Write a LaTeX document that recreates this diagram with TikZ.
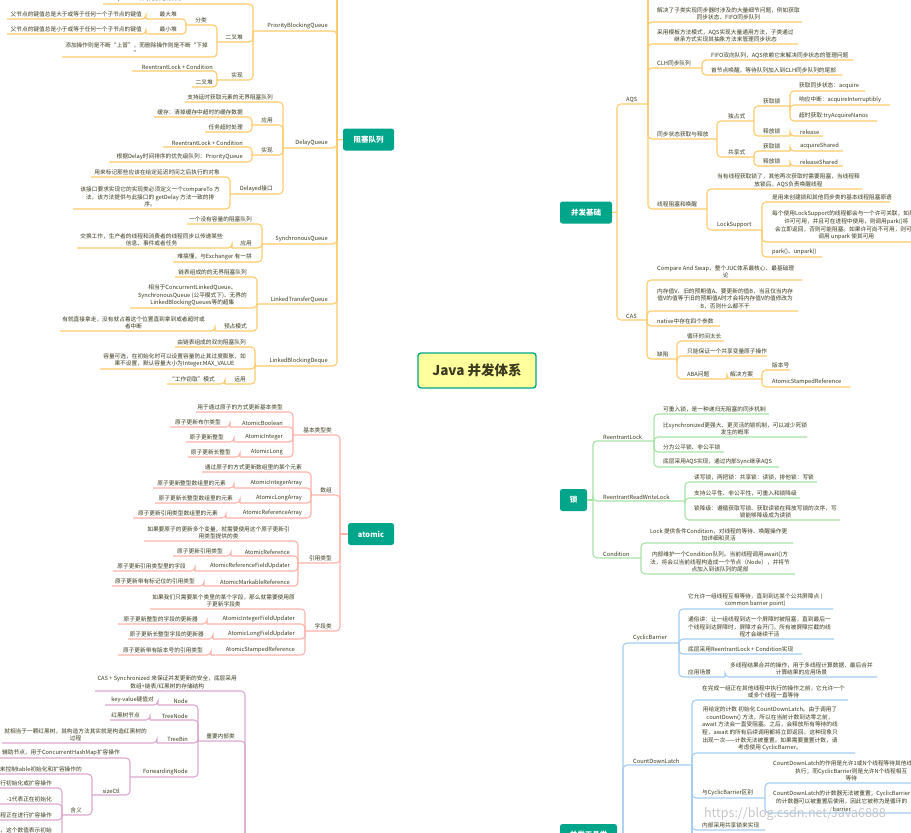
\documentclass[tikz,border=0pt]{standalone}
\usepackage{fontspec}
\setmainfont{Noto Sans CJK SC}
\usetikzlibrary{backgrounds}
\definecolor{txtc}{HTML}{3B3A1E}
\definecolor{lor}{HTML}{FFCB6B}
\definecolor{lrd}{HTML}{FFB3AA}
\definecolor{lgr}{HTML}{A6E3A6}
\definecolor{lbl}{HTML}{A5CDF2}
\definecolor{lpu}{HTML}{DDA8D0}
\definecolor{mor}{HTML}{FFA800}
\definecolor{mrd}{HTML}{FF5B4C}
\definecolor{mgr}{HTML}{4CC94C}
\definecolor{mbl}{HTML}{3B95E3}
\definecolor{mpu}{HTML}{A3428D}
\definecolor{min}{HTML}{47389A}
\definecolor{tealc}{HTML}{00A58A}
\definecolor{centfill}{HTML}{FFFF9E}
\tikzset{
  tx/.style={font=\fontsize{5.7}{7.7}\selectfont, text=txtc, inner xsep=0pt, inner ysep=1.6pt, align=center},
  sub/.style={line width=1.1pt, rounded corners=4pt},
  lo/.style={sub, draw=lor},
  lr/.style={sub, draw=lrd},
  lg/.style={sub, draw=lgr},
  lb/.style={sub, draw=lbl},
  lp/.style={sub, draw=lpu},
  mainc/.style={line width=2.6pt, line cap=round},
  branch/.style={fill=tealc, text=white, font=\fontsize{7.5}{8}\selectfont\bfseries, rounded corners=2.5pt, minimum height=22pt, inner sep=1pt},
  centre/.style={fill=centfill, draw=tealc, line width=1.4pt, rounded corners=3pt, minimum width=118pt, minimum height=35pt, text=txtc, font=\fontsize{13.5}{14}\selectfont\bfseries}
}
\newcommand{\mmL}[7]{\draw[#1] (#3) |- (#5,#4) coordinate (#2); \node[tx,anchor=south east] (#2t) at (#6,#4) {#7};}
\newcommand{\mmR}[7]{\draw[#1] (#3) |- (#5,#4) coordinate (#2); \node[tx,anchor=south west] (#2t) at (#6,#4) {#7};}
\begin{document}
\begin{tikzpicture}[x=1pt,y=-1pt]
\fill[white] (0,0) rectangle (911,833);
\useasboundingbox (0,0) rectangle (911,833);

% ---------- main nodes
\node[centre] (c) at (477,370.5) {Java 并发体系};
\node[branch, minimum width=51pt] (zq) at (368.5,139.5) {阻塞队列};
\node[branch, minimum width=52pt] (bf) at (586,212.5) {并发基础};
\node[branch, minimum width=46pt] (atm) at (371,534) {atomic};
\node[branch, minimum width=27pt] (suo) at (573.5,500) {锁};
\node[branch, minimum width=57pt] (gj) at (588.5,835) {并发工具类};
\coordinate (offg) at (462,-8);
\coordinate (offr) at (493,-8);
\coordinate (offp) at (456,840);
\coordinate (offi) at (496,840);

\begin{pgfonlayer}{background}
\draw[mainc, mor] ([xshift=-7pt]c.north) .. controls (455,240) and (425,142) .. (zq.east);
\draw[mainc, mor] ([xshift=10pt]c.north) .. controls (500,280) and (525,212) .. (bf.west);
\draw[mainc, mgr] ([xshift=-1pt]c.north) .. controls (472,250) and (466,100) .. (offg);
\draw[mainc, mrd] ([xshift=1pt]c.north) .. controls (481,250) and (487,100) .. (offr);
\draw[mainc, mrd] ([xshift=-10pt]c.south) .. controls (460,470) and (440,534) .. (atm.east);
\draw[mainc, mpu] ([xshift=-4pt]c.south) .. controls (473,500) and (465,650) .. (offp);
\draw[mainc, min] ([xshift=1pt]c.south) .. controls (480,500) and (488,650) .. (offi);
\draw[mainc, mbl] ([xshift=5pt]c.south) .. controls (490,560) and (500,800) .. (gj.west);
\draw[mainc, mgr] ([xshift=12pt]c.south) .. controls (495,460) and (520,500) .. (suo.west);
\end{pgfonlayer}

% ---------- 阻塞队列
\coordinate (zqb) at (337,140);
\draw[lo] (zq.west) -- (zqb);
\draw[lo] (zqb) -- (337,-5);
\mmL{lo}{pbq}{zqb}{31}{253}{328}{PriorityBlockingQueue}
\mmL{lo}{pbq0}{pbq}{4}{103}{213}{支持优先级的无界阻塞队列，默认自然序，也可以通过\\Comparator来对元素进行排序}
\mmL{lo}{ecd}{pbq}{42}{217}{243}{二叉堆}
\mmL{lo}{pbqs}{pbq}{80}{217}{243}{实现}
\mmL{lo}{fl}{ecd}{25}{186}{207}{分类}
\mmL{lo}{tj}{ecd}{57}{62}{208}{添加操作则是不断“上冒”，而删除操作则是不断“下掉\\”}
\mmL{lo}{zdd}{fl}{19}{146}{177}{最大堆}
\mmL{lo}{zdda}{zdd}{19}{7}{142}{父节点的键值总是大于或等于任何一个子节点的键值}
\mmL{lo}{zxd}{fl}{34}{146}{177}{最小堆}
\mmL{lo}{zxda}{zxd}{34}{7}{142}{父节点的键值总是小于或等于任何一个子节点的键值}
\mmL{lo}{pbqsa}{pbqs}{71}{132}{213}{ReentrantLock + Condition}
\mmL{lo}{pbqsb}{pbqs}{87}{192}{213}{二叉堆}

\mmL{lo}{dq}{zqb}{148}{283}{328}{DelayQueue}
\mmL{lo}{dqa}{dq}{102}{185}{273}{支持延时获取元素的无界阻塞队列}
\mmL{lo}{dqyy}{dq}{125}{252}{273}{应用}
\mmL{lo}{dqyya}{dqyy}{117}{154}{243}{缓存：清掉缓存中超时的缓存数据}
\mmL{lo}{dqyyb}{dqyy}{132}{205}{243}{任务超时处理}
\mmL{lo}{dqsx}{dq}{155}{252}{273}{实现}
\mmL{lo}{dqsxa}{dqsx}{147}{163}{243}{ReentrantLock + Condition}
\mmL{lo}{dqsxb}{dqsx}{162}{109}{243}{根据Delay时间排序的优先级队列：PriorityQueue}
\mmL{lo}{dqjk}{dq}{194}{230}{273}{Delayed接口}
\mmL{lo}{dqjka}{dqjk}{177}{91}{220}{用来标记那些应该在给定延迟时间之后执行的对象}
\mmL{lo}{dqjkb}{dqjk}{209}{73}{220}{该接口要求实现它的实现类必须定义一个compareTo 方\\法，该方法提供与此接口的 getDelay 方法一致的排\\序。}

\mmL{lo}{sq}{zqb}{244}{262}{328}{SynchronousQueue}
\mmL{lo}{sqa}{sq}{224}{187}{252}{一个没有容量的阻塞队列}
\mmL{lo}{sqyy}{sq}{248}{232}{252}{应用}
\mmL{lo}{sqyya}{sqyy}{248}{77}{223}{交换工作，生产者的线程和消费者的线程同步以传递某些\\信息、事件或者任务}
\mmL{lo}{sqc}{sq}{262}{173}{252}{难搞懂，与Exchanger 有一拼}

\mmL{lo}{ltq}{zqb}{304}{257}{328}{LinkedTransferQueue}
\mmL{lo}{ltqa}{ltq}{277}{175}{247}{链表组成的的无界阻塞队列}
\mmL{lo}{ltqb}{ltq}{308}{130}{247}{相当于ConcurrentLinkedQueue、\\SynchronousQueue (公平模式下)、无界的\\LinkedBlockingQueues等的超集}
\mmL{lo}{ltqc}{ltq}{331}{215}{247}{预占模式}
\mmL{lo}{ltqca}{ltqc}{331}{60}{205}{有就直接拿走，没有就占着这个位置直到拿到或者超时或\\者中断}

\mmL{lo}{lbd}{zqb}{366}{255}{328}{LinkedBlockingDeque}
\mmL{lo}{lbda}{lbd}{347}{175}{246}{由链表组成的双向阻塞队列}
\mmL{lo}{lbdb}{lbd}{369}{100}{246}{容量可选，在初始化时可以设置容量防止其过度膨胀，如\\果不设置，默认容量大小为Integer.MAX\_VALUE}
\mmL{lo}{lbdc}{lbd}{384}{225}{246}{运用}
\mmL{lo}{lbdca}{lbdc}{384}{167}{215}{“工作窃取”模式}

% ---------- atomic
\coordinate (atb) at (340,534);
\draw[lr] (atm.west) -- (atb);
\mmL{lr}{jb}{atb}{435}{293}{332}{基本类型类}
\mmL{lr}{jba}{jb}{412}{196}{283}{用于通过原子的方式更新基本类型}
\mmL{lr}{jbb}{jb}{427}{230}{283}{AtomicBoolean}
\mmL{lr}{jbba}{jbb}{427}{170}{221}{原子更新布尔类型}
\mmL{lr}{jbc}{jb}{442}{234}{283}{AtomicInteger}
\mmL{lr}{jbca}{jbc}{442}{186}{224}{原子更新整型}
\mmL{lr}{jbd}{jb}{457}{240}{283}{AtomicLong}
\mmL{lr}{jbda}{jbd}{457}{188}{231}{原子更新长整型}

\mmL{lr}{sz}{atb}{495}{311}{332}{数组}
\mmL{lr}{sza}{sz}{472}{202}{302}{通过原子的方式更新数组里的某个元素}
\mmL{lr}{szb}{sz}{488}{234}{302}{AtomicIntegerArray}
\mmL{lr}{szba}{szb}{488}{153}{226}{原子更新整型数组里的元素}
\mmL{lr}{szc}{sz}{503}{240}{302}{AtomicLongArray}
\mmL{lr}{szca}{szc}{503}{155}{233}{原子更新长整型数组里的元素}
\mmL{lr}{szd}{sz}{518}{226}{302}{AtomicReferenceArray}
\mmL{lr}{szda}{szd}{518}{133}{218}{原子更新引用类型数组里的元素}

\mmL{lr}{yy}{atb}{563}{298}{332}{引用类型}
\mmL{lr}{yya}{yy}{541}{144}{290}{如果要原子的更新多个变量，就需要使用这个原子更新引\\用类型提供的类}
\mmL{lr}{yyb}{yy}{556}{231}{290}{AtomicReference}
\mmL{lr}{yyba}{yyb}{556}{173}{223}{原子更新引用类型}
\mmL{lr}{yyc}{yy}{571}{195}{290}{AtomicReferenceFieldUpdater}
\mmL{lr}{yyca}{yyc}{571}{113}{186}{原子更新引用类型里的字段}
\mmL{lr}{yyd}{yy}{586}{204}{290}{AtomicMarkableReference}
\mmL{lr}{yyda}{yyd}{586}{112}{195}{原子更新带有标记位的引用类型}

\mmL{lr}{zd}{atb}{631}{305}{332}{字段类}
\mmL{lr}{zda}{zd}{609}{150}{295}{如果我们只需要某个类里的某个字段，那么就需要使用原\\子更新字段类}
\mmL{lr}{zdb}{zd}{624}{207}{295}{AtomicIntegerFieldUpdater}
\mmL{lr}{zdba}{zdb}{624}{118}{198}{原子更新整型的字段的更新器}
\mmL{lr}{zdc}{zd}{639}{213}{295}{AtomicLongFieldUpdater}
\mmL{lr}{zdca}{zdc}{639}{128}{204}{原子更新长整型字段的更新器}
\mmL{lr}{zde}{zd}{655}{211}{295}{AtomicStampedReference}
\mmL{lr}{zdea}{zde}{655}{118}{203}{原子更新带有版本号的引用类型}

% ---------- ConcurrentHashMap (purple, parent below picture)
\coordinate (chmb) at (245,900);
\mmL{lp}{cha}{chmb}{691}{95}{237}{CAS + Synchronized 来保证并发更新的安全，底层采用\\数组+链表/红黑树的存储结构}
\mmL{lp}{chn}{chmb}{741}{198}{235}{重要内部类}
\mmL{lp}{chna}{chn}{705}{158}{188}{Node}
\mmL{lp}{chnaa}{chna}{705}{105}{154}{key-value键值对}
\mmL{lp}{chnb}{chn}{720}{150}{188}{TreeNode}
\mmL{lp}{chnba}{chnb}{720}{110}{140}{红黑树节点}
\mmL{lp}{chnc}{chn}{743}{157}{188}{TreeBin}
\mmL{lp}{chnca}{chnc}{743}{2}{147}{就相当于一颗红黑树，其构造方法其实就是构造红黑树的\\过程}
\mmL{lp}{chnd}{chn}{777}{130}{188}{ForwardingNode}
\mmL{lp}{chnda}{chnd}{758}{-5}{120}{辅助节点，用于ConcurrentHashMap扩容操作}
\mmL{lp}{scl}{chnd}{795}{92}{120}{sizeCtl}
\mmL{lp}{scla}{scl}{774}{-5}{82}{控制标识符，用来控制table初始化和扩容操作的}
\mmL{lp}{hy}{scl}{815}{62}{82}{含义}
\mmL{lp}{hya}{hy}{788}{-5}{52}{负数代表正在进行初始化或扩容操作}
\mmL{lp}{hyb}{hy}{804}{-5}{52}{-1代表正在初始化}
\mmL{lp}{hyc}{hy}{820}{-5}{52}{-N 表示有N-1个线程正在进行扩容操作}
\mmL{lp}{hyd}{hy}{842}{-5}{52}{正数或0代表hash表还没有被初始化，这个数值表示初始\\化或下一次进行扩容的大小}

% ---------- 并发基础
\coordinate (bfb) at (617,212);
\draw[lo] (bf.east) -- (bfb);
\mmR{lo}{aqs}{bfb}{104}{648}{626}{AQS}
\draw[lo] (aqs) -- (648,-5);
\mmR{lo}{aqsa}{aqs}{22}{802}{657}{解决了子类实现同步器时涉及的大量细节问题，例如获取\\同步状态、FIFO同步队列}
\mmR{lo}{aqsb}{aqs}{44}{798}{657}{采用模板方法模式，AQS实现大量通用方法，子类通过\\继承方式实现其抽象方法来管理同步状态}
\mmR{lo}{clh}{aqs}{68}{702}{657}{CLH同步队列}
\mmR{lo}{clha}{clh}{60}{853}{711}{FIFO双向队列，AQS依赖它来解决同步状态的管理问题}
\mmR{lo}{clhb}{clh}{75}{842}{711}{首节点唤醒，等待队列加入到CLH同步队列的尾部}
\mmR{lo}{tb}{aqs}{139}{717}{657}{同步状态获取与释放}
\mmR{lo}{dz}{tb}{121}{754}{728}{独占式}
\mmR{lo}{dzh}{dz}{106}{790}{763}{获取锁}
\mmR{lo}{dzha}{dzh}{91}{865}{799}{获取同步状态：acquire}
\mmR{lo}{dzhb}{dzh}{105}{890}{799}{响应中断：acquireInterruptibly}
\mmR{lo}{dzhc}{dzh}{121}{877}{799}{超时获取:tryAcquireNanos}
\mmR{lo}{dzs}{dz}{136}{790}{763}{释放锁}
\mmR{lo}{dzsa}{dzs}{136}{823}{800}{release}
\mmR{lo}{gx}{tb}{157}{754}{728}{共享式}
\mmR{lo}{gxh}{gx}{151}{790}{763}{获取锁}
\mmR{lo}{gxha}{gxh}{151}{843}{800}{acquireShared}
\mmR{lo}{gxs}{gx}{166}{790}{763}{释放锁}
\mmR{lo}{gxsa}{gxs}{166}{843}{800}{releaseShared}
\mmR{lo}{zs}{aqs}{209}{707}{657}{线程阻塞和唤醒}
\mmR{lo}{zsa}{zs}{189}{862}{717}{当有线程获取锁了，其他再次获取时需要阻塞，当线程释\\放锁后，AQS负责唤醒线程}
\mmR{lo}{ls}{zs}{230}{762}{717}{LockSupport}
\mmR{lo}{lsa}{ls}{202}{890}{772}{是用来创建锁和其他同步类的基本线程阻塞原语}
\mmR{lo}{lsb}{ls}{242}{920}{772}{每个使用LockSupport的线程都会与一个许可关联，如果该\\许可可用，并且可在进程中使用，则调用park()将\\会立即返回，否则可能阻塞。如果许可尚不可用，则可以\\调用 unpark 使其可用}
\mmR{lo}{lsc}{ls}{257}{822}{772}{park()、unpark()}
\mmR{lo}{cas}{bfb}{320}{647}{626}{CAS}
\mmR{lo}{casa}{cas}{280}{802}{657}{Compare And Swap，整个JUC体系最核心、最基础理\\论}
\mmR{lo}{casb}{cas}{311}{798}{657}{内存值V、旧的预期值A、要更新的值B，当且仅当内存\\值V的值等于旧的预期值A时才会将内存值V的值修改为\\B，否则什么都不干}
\mmR{lo}{casc}{cas}{326}{720}{657}{native中存在四个参数}
\mmR{lo}{qx}{cas}{359}{677}{657}{缺陷}
\mmR{lo}{qxa}{qx}{341}{724}{687}{循环时间太长}
\mmR{lo}{qxb}{qx}{356}{767}{687}{只能保证一个共享变量原子操作}
\mmR{lo}{aba}{qx}{379}{727}{687}{ABA问题}
\mmR{lo}{jj}{aba}{379}{762}{730}{解决方案}
\mmR{lo}{jja}{jj}{370}{790}{772}{版本号}
\mmR{lo}{jjb}{jj}{387}{850}{772}{AtomicStampedReference}

% ---------- 锁
\coordinate (sb) at (593,500);
\draw[lg] (suo.east) -- (sb);
\mmR{lg}{rl}{sb}{441}{654}{603}{ReentrantLock}
\mmR{lg}{rla}{rl}{414}{769}{663}{可重入锁，是一种递归无阻塞的同步机制}
\mmR{lg}{rlb}{rl}{437}{807}{663}{比synchronized更强大、更灵活的锁机制，可以减少死锁\\发生的概率}
\mmR{lg}{rlc}{rl}{452}{724}{663}{分为公平锁、非公平锁}
\mmR{lg}{rld}{rl}{467}{779}{663}{底层采用AQS实现，通过内部Sync继承AQS}
\mmR{lg}{rw}{sb}{501}{685}{603}{ReentrantReadWriteLock}
\mmR{lg}{rwa}{rw}{482}{817}{694}{读写锁，两把锁：共享锁：读锁，排他锁：写锁}
\mmR{lg}{rwb}{rw}{498}{800}{694}{支持公平性、非公平性，可重入和锁降级}
\mmR{lg}{rwc}{rw}{520}{840}{694}{锁降级：遵循获取写锁、获取读锁在释放写锁的次序，写\\锁能够降级成为读锁}
\mmR{lg}{cd}{sb}{558}{641}{603}{Condition}
\mmR{lg}{cda}{cd}{543}{793}{650}{Lock 提供条件Condition，对线程的等待、唤醒操作更\\加详细和灵活}
\mmR{lg}{cdb}{cd}{574}{795}{650}{内部维护一个Condition队列。当前线程调用await()方\\法，将会以当前线程构造成一个节点（Node），并将节\\点加入到该队列的尾部}

% ---------- 并发工具类
\coordinate (gjb) at (623,835);
\draw[lb] (gj.east) -- (gjb);
\mmR{lb}{cb}{gjb}{643}{679}{633}{CyclicBarrier}
\mmR{lb}{cba}{cb}{609}{833}{688}{它允许一组线程互相等待，直到到达某个公共屏障点 (\\common barrier point)}
\mmR{lb}{cbb}{cb}{639}{834}{688}{通俗讲：让一组线程到达一个屏障时被阻塞，直到最后一\\个线程到达屏障时，屏障才会开门，所有被屏障拦截的线\\程才会继续干活}
\mmR{lb}{cbc}{cb}{654}{802}{688}{底层采用ReentrantLock + Condition实现}
\mmR{lb}{cbd}{cb}{677}{725}{688}{应用场景}
\mmR{lb}{cbda}{cbd}{677}{877}{730}{多线程结果合并的操作，用于多线程计算数据，最后合并\\计算结果的应用场景}
\mmR{lb}{cdl}{gjb}{765}{692}{633}{CountDownLatch}
\mmR{lb}{cdla}{cdl}{700}{848}{702}{在完成一组正在其他线程中执行的操作之前，它允许一个\\或多个线程一直等待}
\mmR{lb}{cdlb}{cdl}{753}{855}{702}{用给定的计数 初始化 CountDownLatch。由于调用了\\countDown() 方法，所以在当前计数到达零之前，\\await 方法会一直受阻塞。之后，会释放所有等待的线\\程，await 的所有后续调用都将立即返回。这种现象只\\出现一次——计数无法被重置。如果需要重置计数，请\\考虑使用 CyclicBarrier。}
\mmR{lb}{cdlc}{cdl}{798}{765}{702}{与CyclicBarrier区别}
\mmR{lb}{cdlca}{cdlc}{783}{920}{773}{CountDownLatch的作用是允许1或N个线程等待其他线程完成\\执行；而CyclicBarrier则是允许N个线程相互\\等待}
\mmR{lb}{cdlcb}{cdlc}{813}{920}{773}{CountDownLatch的计数器无法被重置；CyclicBarrier\\的计数器可以被重置后使用，因此它被称为是循环的\\barrier}
\mmR{lb}{cdld}{cdl}{830}{765}{702}{内部采用共享锁来实现}
\draw[lb] (cdl) -- (692,845);

% watermark
\node[text=black!22, font=\fontsize{12.5}{13}\selectfont, inner sep=0pt] (wm) at (795,814) {https://blog.csdn.net/Java6888};
\end{tikzpicture}
\end{document}
